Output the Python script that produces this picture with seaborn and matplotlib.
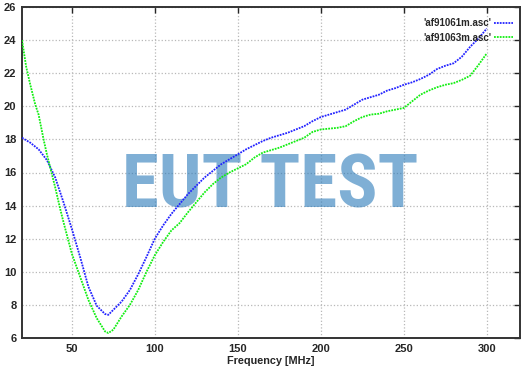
import matplotlib
matplotlib.use("Agg")
import matplotlib.pyplot as plt
import seaborn as sns
import pandas as pd

# ---- data ----
freq_a = [20, 25, 30, 35, 40, 45, 50, 55, 60, 65, 70, 72, 75, 80, 85, 90, 95, 100,
          105, 110, 115, 120, 125, 130, 135, 140, 145, 150, 155, 160, 165, 170, 175,
          180, 185, 190, 195, 200, 205, 210, 215, 220, 225, 230, 235, 240, 245, 250,
          255, 260, 265, 270, 275, 280, 285, 290, 295, 300]
gain_a = [18.1, 17.8, 17.4, 16.75, 15.7, 14.2, 12.6, 10.9, 9.1, 7.95, 7.45, 7.4, 7.7,
          8.2, 8.9, 9.85, 10.9, 12.0, 12.8, 13.5, 14.1, 14.7, 15.2, 15.7, 16.1, 16.5,
          16.8, 17.1, 17.4, 17.65, 17.9, 18.1, 18.25, 18.4, 18.6, 18.8, 19.1, 19.35,
          19.5, 19.65, 19.8, 20.1, 20.4, 20.55, 20.7, 20.95, 21.1, 21.3, 21.45, 21.65,
          21.9, 22.25, 22.45, 22.6, 23.0, 23.6, 24.1, 24.7]

freq_b = [20, 22.5, 25, 28, 30, 33, 35, 37, 40, 43, 45, 50, 55, 60, 65, 70, 72, 75, 80,
          85, 90, 95, 100, 105, 110, 115, 120, 125, 130, 135, 140, 145, 150, 155, 160,
          165, 170, 175, 180, 185, 190, 195, 200, 205, 210, 215, 220, 225, 230, 235,
          240, 245, 250, 255, 260, 265, 270, 275, 280, 285, 290, 295, 300]
gain_b = [24.0, 22.4, 21.3, 20.1, 19.5, 18.0, 17.1, 16.3, 15.1, 13.8, 13.0, 11.1, 9.7,
          8.3, 7.2, 6.4, 6.3, 6.5, 7.3, 8.0, 8.9, 10.0, 11.0, 11.8, 12.5, 12.95, 13.6,
          14.2, 14.8, 15.3, 15.7, 16.0, 16.25, 16.5, 16.9, 17.2, 17.35, 17.5, 17.7,
          17.9, 18.1, 18.45, 18.6, 18.65, 18.7, 18.8, 19.1, 19.35, 19.5, 19.55, 19.7,
          19.8, 19.9, 20.3, 20.7, 20.95, 21.15, 21.3, 21.4, 21.6, 21.85, 22.5, 23.2]

series_names = ["'af91061m.asc'", "'af91063m.asc'"]
x_ticks = [50, 100, 150, 200, 250, 300]
y_ticks = [6, 8, 10, 12, 14, 16, 18, 20, 22, 24, 26]
x_label = "Frequency [MHz]"
watermark = "EUT TEST"

df = pd.concat([
    pd.DataFrame({"freq": freq_a, "gain": gain_a, "series": series_names[0]}),
    pd.DataFrame({"freq": freq_b, "gain": gain_b, "series": series_names[1]}),
], ignore_index=True)

sns.set_style("white")
plt.rcParams["font.family"] = ["Liberation Sans", "DejaVu Sans"]

fig = plt.figure(figsize=(5.29, 3.71), dpi=100)
ax = fig.add_axes([22 / 529, 33 / 371, 498 / 529, 331 / 371])

palette = {series_names[0]: "#2222ff", series_names[1]: "#11ee11"}
sns.lineplot(data=df, x="freq", y="gain", hue="series", palette=palette,
             ax=ax, linewidth=1.3, zorder=3, sort=False, estimator=None)
for ln in ax.get_lines():
    ln.set_linestyle((0, (1, 0.6)))

ax.set_xlim(20, 320)
ax.set_ylim(6, 26)
ax.set_xticks(x_ticks)
ax.set_yticks(y_ticks)
ax.tick_params(axis="both", direction="in", length=4, width=1, labelsize=8,
               top=True, right=True, pad=4)
for lab in ax.get_xticklabels() + ax.get_yticklabels():
    lab.set_fontweight("bold")
ax.grid(True, color="#b8b8b8", linestyle=":", linewidth=0.9)
for s in ax.spines.values():
    s.set_color("#333333")
    s.set_linewidth(1.4)
ax.set_xlabel(x_label, fontsize=7.8, fontweight="bold", labelpad=2)
ax.set_ylabel("")

ax.text(0.498, 0.455, watermark, transform=ax.transAxes, ha="center", va="center",
        fontsize=54, family=["Liberation Sans Narrow", "Roboto Condensed", "Roboto"],
        fontweight="bold", color="#2a7ab9", alpha=0.6, zorder=1)

leg = ax.legend(loc="upper right", bbox_to_anchor=(0.997, 0.984), frameon=False,
                markerfirst=False, fontsize=7, handlelength=1.9, handletextpad=0.25,
                labelspacing=0.45, borderaxespad=0.2)
for t in leg.get_texts():
    t.set_fontweight("bold")
for h in leg.get_lines():
    h.set_linestyle((0, (1, 0.6)))
    h.set_linewidth(1.3)

fig.savefig("out.png", dpi=100)
